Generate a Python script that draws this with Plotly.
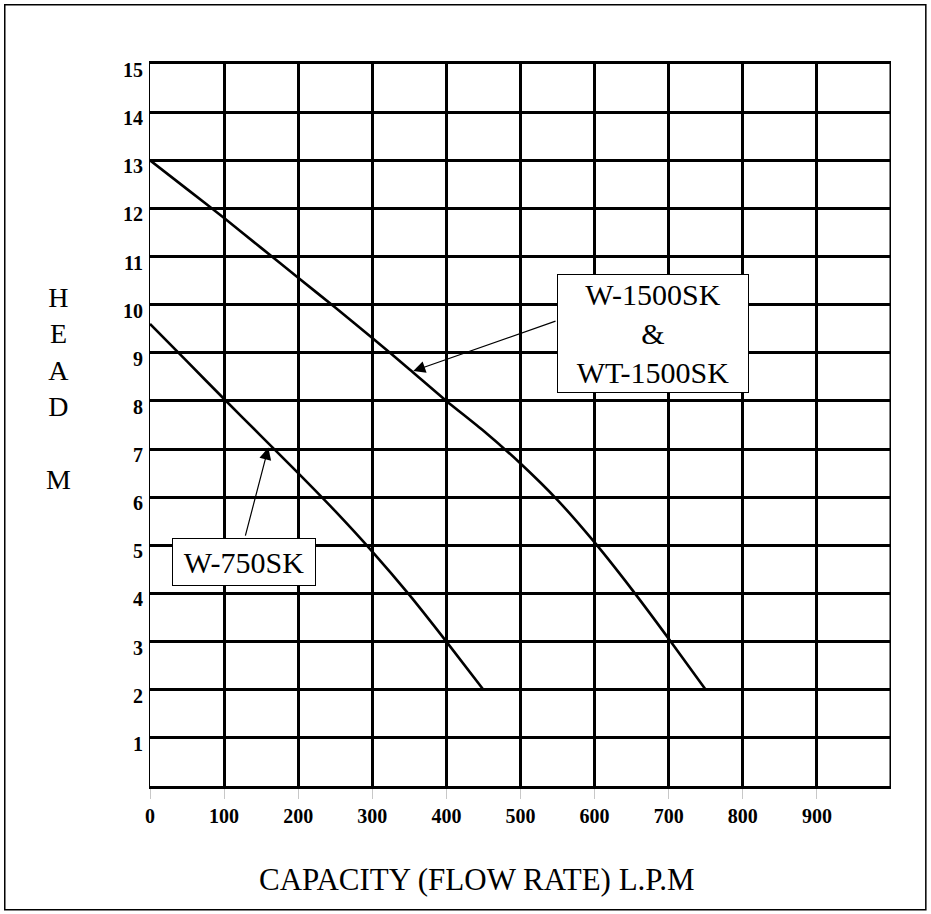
import plotly.graph_objects as go

# ---- data ----
flow_1500 = [0, 50, 100, 150, 200, 250, 300, 350, 400, 450, 500, 550, 600, 650, 700, 750]
head_1500 = [13.0, 12.40, 11.80, 11.18, 10.56, 9.94, 9.31, 8.66, 8.0, 7.38, 6.70, 5.94, 5.06, 4.09, 3.06, 2.0]

flow_750 = [0, 50, 100, 150, 200, 250, 300, 350, 400, 450]
head_750 = [9.6, 8.82, 8.04, 7.27, 6.50, 5.71, 4.87, 3.97, 3.00, 2.0]

x_ticks = [0, 100, 200, 300, 400, 500, 600, 700, 800, 900]
y_ticks = [1, 2, 3, 4, 5, 6, 7, 8, 9, 10, 11, 12, 13, 14, 15]

label_1500 = "W-1500SK<br>&<br>WT-1500SK"
label_750 = "W-750SK"
x_title = "CAPACITY (FLOW RATE) L.P.M"
y_title = "H<br>E<br>A<br>D<br><br>M"

SERIF = "Liberation Serif, Times New Roman, serif"

fig = go.Figure()
fig.add_trace(go.Scatter(x=flow_1500, y=head_1500, mode="lines",
                         line=dict(color="black", width=2.6, shape="spline", smoothing=0.6),
                         name="W-1500SK & WT-1500SK", showlegend=False, hoverinfo="skip"))
fig.add_trace(go.Scatter(x=flow_750, y=head_750, mode="lines",
                         line=dict(color="black", width=2.6, shape="spline", smoothing=0.6),
                         name="W-750SK", showlegend=False, hoverinfo="skip"))

fig.update_layout(
    width=931, height=914,
    margin=dict(l=150, r=40, t=64, b=128),
    paper_bgcolor="white", plot_bgcolor="white",
    font=dict(family=SERIF, color="black"),
    xaxis=dict(range=[0, 1000], tickvals=x_ticks, ticktext=[str(v) for v in x_ticks],
               showgrid=True, gridcolor="black", gridwidth=3,
               showline=True, linecolor="black", linewidth=3, mirror=True,
               zeroline=False, ticks="outside", ticklen=10, tickcolor="#c8c8c8", tickwidth=1,
               tickfont=dict(family=SERIF, size=20, color="black", weight="bold"),
               ticklabelstandoff=0),
    yaxis=dict(range=[0, 15], tickvals=y_ticks, ticktext=[str(v) for v in y_ticks],
               showgrid=True, gridcolor="black", gridwidth=3,
               showline=True, linecolor="black", linewidth=1,
               zeroline=False, ticks="",
               tickfont=dict(family=SERIF, size=20, color="black", weight="bold"),
               ticklabelstandoff=2, ticklabelshift=6),
)

# right frame edge (thick) and outer page border
fig.add_shape(type="line", xref="x", yref="paper", x0=1000, x1=1000, y0=0, y1=1,
              line=dict(color="black", width=3))
fig.add_shape(type="rect", xref="paper", yref="paper",
              x0=-0.1960, x1=1.0470, y0=-0.1715, y1=1.0820,
              line=dict(color="black", width=1.5), fillcolor="rgba(0,0,0,0)")

# labels with boxes
fig.add_annotation(x=678.8, y=9.40, xref="x", yref="y", text=label_1500, showarrow=False,
                   font=dict(family=SERIF, size=30, color="black"),
                   bgcolor="white", bordercolor="black", borderwidth=1, borderpad=0,
                   width=190, height=117, align="center", xanchor="center", yanchor="middle")
fig.add_annotation(x=127.5, y=4.66, xref="x", yref="y", text=label_750, showarrow=False,
                   font=dict(family=SERIF, size=30, color="black"),
                   bgcolor="white", bordercolor="black", borderwidth=1, borderpad=0,
                   width=142, height=46, align="center", xanchor="center", yanchor="middle")

# arrows
fig.add_annotation(x=355.3, y=8.62, xref="x", yref="y", ax=549.3, ay=9.67, axref="x", ayref="y",
                   text="", showarrow=True, arrowhead=2, arrowsize=2.0, arrowwidth=1.2,
                   arrowcolor="black", standoff=0)
fig.add_annotation(x=159.7, y=7.03, xref="x", yref="y", ax=128.2, ay=5.17, axref="x", ayref="y",
                   text="", showarrow=True, arrowhead=2, arrowsize=2.0, arrowwidth=1.2,
                   arrowcolor="black", standoff=0)

# axis titles
fig.add_annotation(x=0.44, y=-0.130, xref="paper", yref="paper", text=x_title, showarrow=False,
                   font=dict(family=SERIF, size=31, color="black"), xanchor="center", yanchor="middle")
fig.add_annotation(x=-0.124, y=0.55, xref="paper", yref="paper", text=y_title, showarrow=False,
                   font=dict(family=SERIF, size=28, color="black"), xanchor="center", yanchor="middle",
                   align="center")

fig.write_html("out.html", config={"displayModeBar": False},
               post_script="document.body.style.margin='0px';document.body.style.overflow='hidden';")
